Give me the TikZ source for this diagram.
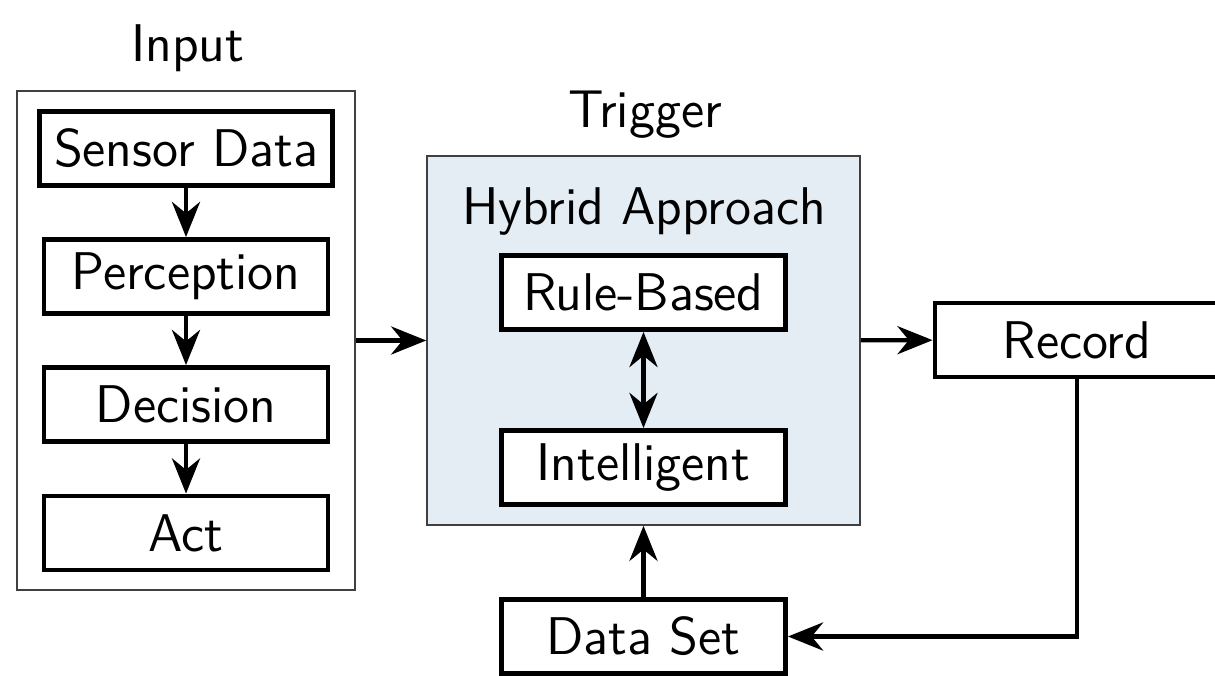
\documentclass[tikz,border=0pt]{standalone}
\usetikzlibrary{arrows.meta,positioning}
\definecolor{triggerfill}{RGB}{228,236,244}
\begin{document}
\begin{tikzpicture}[font=\fontsize{15.1}{18}\selectfont\sffamily,
  >={Stealth[length=10pt,width=8pt]},
  block/.style={draw,line width=1.4pt,fill=white,minimum width=2.84cm,minimum height=0.74cm,inner xsep=4.2pt},
  group/.style={draw=black!75,line width=0.45pt},
  flow/.style={->,line width=1.2pt}]
  \useasboundingbox (0,0) rectangle (12.15,-6.76);
  % outer groups
  \node[group,minimum width=3.38cm,minimum height=4.99cm] (input) at (1.86,-3.405){};
  \node[group,fill=triggerfill,minimum width=4.33cm,minimum height=3.69cm] (trigger) at (6.435,-3.405){};
  \node[anchor=base] (inputlbl) at (1.88,-0.62) {Input};
  \node[anchor=base] (triggerlbl) at (6.45,-1.28) {Trigger};
  \node[anchor=base] (hybridlbl) at (6.44,-2.25) {Hybrid Approach};
  % input chain
  \node[block] (sensor) at (1.86,-1.485) {Sensor Data};
  \node[block] (perception) at (1.86,-2.765) {Perception};
  \node[block] (decision) at (1.86,-4.045) {Decision};
  \node[block] (act) at (1.86,-5.33) {Act};
  % trigger parts
  \node[block] (rule) at (6.435,-2.925) {Rule-Based};
  \node[block] (intel) at (6.435,-4.675) {Intelligent};
  \node[block] (record) at (10.77,-3.40) {Record};
  \node[block] (dataset) at (6.435,-6.365) {Data Set};
  % connectors
  \draw[flow] (sensor) -- (perception);
  \draw[flow] (perception) -- (decision);
  \draw[flow] (decision) -- (act);
  \draw[flow] (input) -- (trigger);
  \draw[flow,<->] (rule) -- (intel);
  \draw[flow] (trigger) -- (record);
  \draw[flow] (dataset) -- (trigger);
  \draw[flow] (record.south) |- (dataset.east);
\end{tikzpicture}
\end{document}
